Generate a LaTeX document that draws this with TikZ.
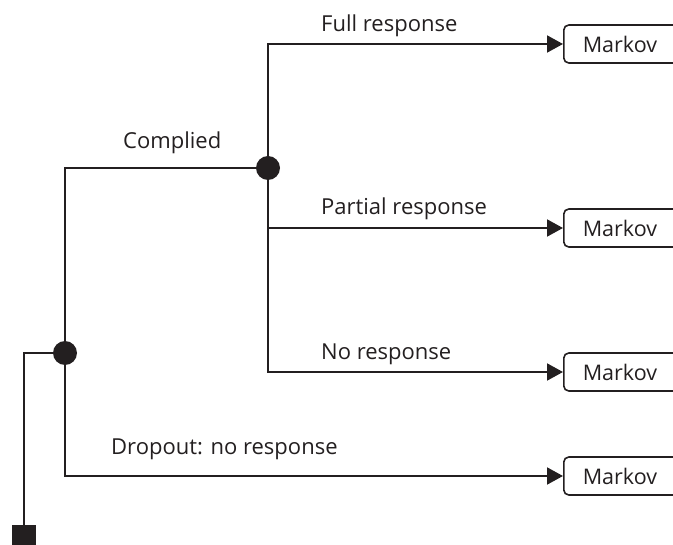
\documentclass[tikz,border=0pt]{standalone}
\usepackage{fontspec}
\setmainfont{Open Sans}
\usetikzlibrary{arrows.meta}
\definecolor{ink}{HTML}{231F20}
\begin{document}
\begin{tikzpicture}[x=1pt,y=-1pt,
  line/.style={draw=ink,line width=2pt},
  arr/.style={line,-{Triangle[length=16pt,width=17pt]}},
  chance/.style={circle,fill=ink,minimum size=24pt,inner sep=0pt},
  decision/.style={rectangle,fill=ink,minimum size=24pt,inner sep=0pt},
  markov/.style={draw=ink,line width=1.6pt,rounded corners=5pt,anchor=west,
    minimum height=38pt,text width=95pt,inner xsep=19pt,align=left,
    font=\fontsize{21.5}{26}\selectfont,text=ink},
  lab/.style={anchor=base west,inner sep=0pt,font=\fontsize{22}{26}\selectfont,text=ink}]
\useasboundingbox (0,0) rectangle (673,545);
\clip (0,0) rectangle (673,545);
\node[decision] (sq) at (24,537) {};
\node[chance] (c1) at (65,353) {};
\node[chance] (c2) at (268,168) {};
\node[markov] (m1) at (563,44) {Markov};
\node[markov] (m2) at (563,228) {Markov};
\node[markov] (m3) at (563,372) {Markov};
\node[markov] (m4) at (563,476) {Markov};
\draw[line] (sq.north) |- (c1.west);
\draw[line] (c1.north) |- (c2.west);
\draw[arr] (c1.south) |- (m4.west);
\draw[arr] (c2.north) |- (m1.west);
\draw[arr] (c2.south) |- (m3.west);
\draw[arr] (c2.south |- m2.west) -- (m2.west);
\node[lab] (lfull) at (321,32) {Full response};
\node[lab] (lcomp) at (123,149) {Complied};
\node[lab] (lpart) at (321,215) {Partial response};
\node[lab] (lno) at (321,360) {No response};
\node[lab] (ldrop) at (111,455) {Dropout: no response};
\end{tikzpicture}
\end{document}
